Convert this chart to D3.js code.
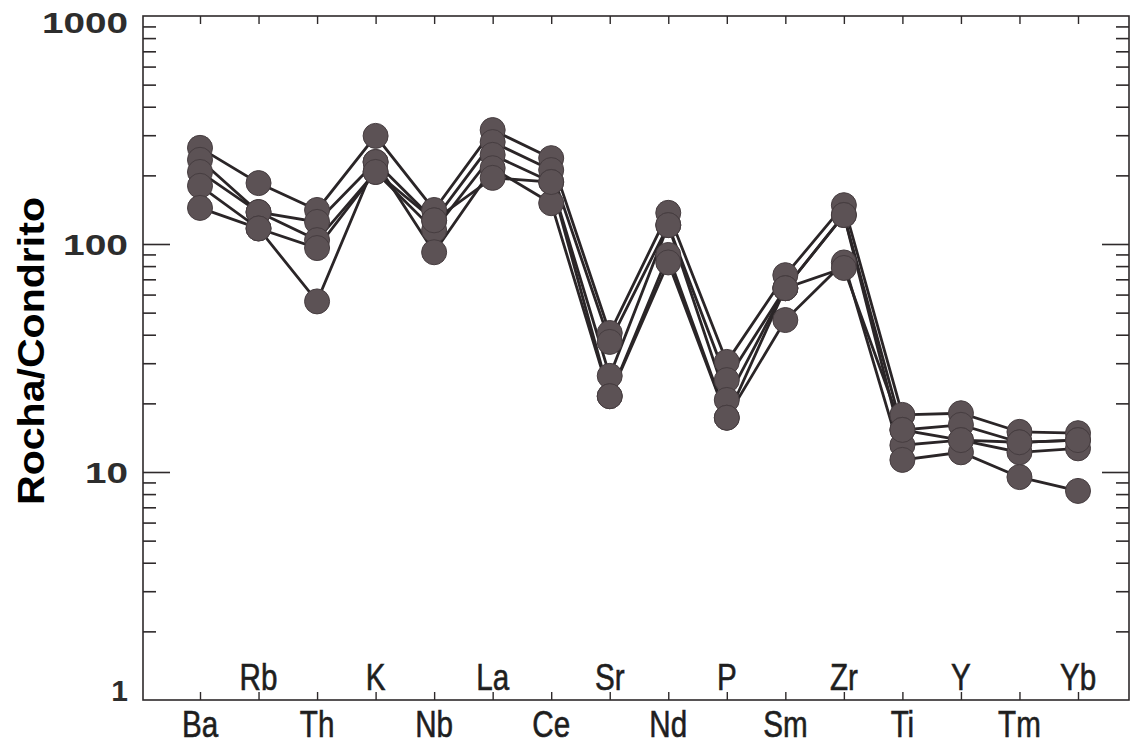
<!DOCTYPE html>
<html>
<head>
<meta charset="utf-8">
<script src="https://cdn.jsdelivr.net/npm/d3@7"></script>
<style>
  body { margin:0; background:#fff; }
  svg { display:block; }
</style>
</head>
<body>
<svg id="chart" width="1130" height="751"></svg>
<script>
// elements, normalised to chondrite
var elements = ["Ba","Rb","Th","K","Nb","La","Ce","Sr","Nd","P","Sm","Zr","Ti","Y","Tm","Yb"];
var sample1 = [264, 185, 141, 298, 141, 316, 238, 40.7, 137, 30.4, 73, 148, 17.8, 18.1, 15.0, 14.8];
var sample2 = [234, 138, 125, 229, 127, 280, 211, 37.2, 121, 25.3, 64, 134, 15.3, 16.1, 13.5, 13.8];
var sample3 = [207, 138, 104, 207, 115, 246, 187, 26.4, 121, 20.7, 64, 134, 13.1, 13.8, 12.2, 12.7];
var sample4 = [180, 117, 56, 229, 92, 215, 151, 21.5, 89.5, 17.3, 46.4, 83, 11.3, 12.2, 9.5, 8.26];
var sample5 = [144, 117, 96, 207, 127, 195, 187, 21.5, 83, 17.3, 64, 78.5, 15.3, 13.8, 13.5, 13.8];
var samples = [sample1, sample2, sample3, sample4, sample5];
var yLabels = [1, 10, 100, 1000];

function draw(){
  var svg = d3.select("#chart");
  var pLeft = 143, pRight = 1129, pTop = 16, pBottom = 700;

  var x = d3.scalePoint().domain(elements).range([200, 1078]);
  var y = d3.scaleLog().domain([1, 1000]).range([pBottom, pTop]);

  var axisColor = "#2e2a2b";

  // frame
  svg.append("rect").attr("x", pLeft).attr("y", pTop).attr("width", pRight-pLeft).attr("height", pBottom-pTop)
    .attr("fill", "none").attr("stroke", axisColor).attr("stroke-width", 1.6);

  // minor / major log ticks on the left and right sides
  var allTicks = y.ticks();
  var majors = allTicks.filter(function(v){ return v == 10 || v == 100; });
  var minors = allTicks.filter(function(v){ return [1,10,100,1000].indexOf(v) < 0; });

  function sideAxis(axisFn, xpos, vals, size){
    var g = svg.append("g").attr("transform", "translate(" + xpos + ",0)")
      .call(axisFn(y).tickValues(vals).tickSize(size).tickFormat(""));
    g.select(".domain").remove();
    g.selectAll("line").attr("stroke", axisColor).attr("stroke-width", 1.6);
  }
  sideAxis(d3.axisRight, pLeft, minors, 13);
  sideAxis(d3.axisRight, pLeft, majors, 27);
  sideAxis(d3.axisLeft, pRight, minors, 13);
  sideAxis(d3.axisLeft, pRight, majors, 27);

  // category ticks top and bottom
  var gb = svg.append("g").attr("transform", "translate(0," + pBottom + ")")
    .call(d3.axisTop(x).tickSize(8).tickFormat(""));
  gb.select(".domain").remove();
  gb.selectAll("line").attr("stroke", axisColor).attr("stroke-width", 1.4);
  var gt = svg.append("g").attr("transform", "translate(0," + pTop + ")")
    .call(d3.axisBottom(x).tickSize(8).tickFormat(""));
  gt.select(".domain").remove();
  gt.selectAll("line").attr("stroke", axisColor).attr("stroke-width", 1.4);

  // y tick labels
  var labelWidths = {1: null, 10: 43, 100: 65, 1000: 86};
  yLabels.forEach(function(v){
    var t = svg.append("text")
      .attr("x", 128)
      .attr("y", Math.min(Math.max(y(v), 22), 690))
      .attr("dy", "0.36em")
      .attr("text-anchor", "end")
      .attr("font-family", "Liberation Sans, Arial, sans-serif")
      .attr("font-weight", "bold")
      .attr("font-size", 30)
      .attr("fill", "#2d2d2d")
      .text(v);
    if(labelWidths[v]) t.attr("textLength", labelWidths[v]).attr("lengthAdjust", "spacingAndGlyphs");
  });

  // element labels, alternating above / below the axis (condensed look)
  svg.append("g").selectAll("text").data(elements).enter().append("text")
    .attr("transform", function(d, i){
      return "translate(" + x(d) + "," + (i % 2 == 0 ? 737 : 690) + ") scale(0.8,1)";
    })
    .attr("text-anchor", "middle")
    .attr("font-family", "Liberation Sans, Arial, sans-serif")
    .attr("font-size", 37)
    .attr("fill", "#1e1e1e")
    .attr("stroke", "#1e1e1e")
    .attr("stroke-width", 0.6)
    .text(function(d){ return d; });

  // axis title
  svg.append("text")
    .attr("transform", "translate(44,351) rotate(-90)")
    .attr("text-anchor", "middle")
    .attr("font-family", "Liberation Sans, Arial, sans-serif")
    .attr("font-weight", "bold")
    .attr("font-size", 36)
    .attr("fill", "#000")
    .attr("textLength", 308)
    .attr("lengthAdjust", "spacingAndGlyphs")
    .text("Rocha/Condrito");

  // lines
  var line = d3.line()
    .x(function(d, i){ return x(elements[i]); })
    .y(function(d){ return y(d); });

  svg.append("g").selectAll("path").data(samples).enter().append("path")
    .attr("d", line)
    .attr("fill", "none")
    .attr("stroke", "#2a2527")
    .attr("stroke-width", 2.8);

  // markers
  samples.forEach(function(s){
    svg.append("g").selectAll("circle").data(s).enter().append("circle")
      .attr("cx", function(d, i){ return x(elements[i]); })
      .attr("cy", function(d){ return y(d); })
      .attr("r", 12.5)
      .attr("fill", "#5c5255")
      .attr("stroke", "#463d40")
      .attr("stroke-width", 1);
  });
}
draw();
</script>
</body>
</html>
